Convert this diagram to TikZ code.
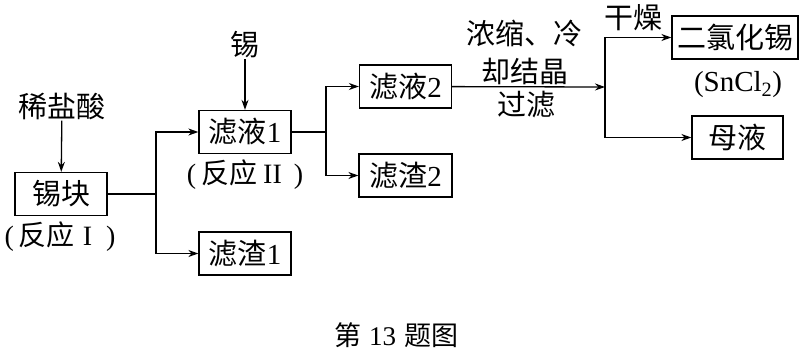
\documentclass[tikz,border=0pt]{standalone}
\usepackage{fontspec}
\setmainfont{Noto Sans CJK SC}
\newfontfamily\lat{Liberation Serif}
\usetikzlibrary{arrows.meta}
\begin{document}
\begin{tikzpicture}[x=1pt,y=-1pt,
  every node/.style={font=\fontsize{29}{33}\selectfont},
  box/.style={draw,line width=1.3pt,minimum height=43pt,inner sep=0pt},
  lbl/.style={inner sep=1pt},
  arr/.style={line width=1.3pt,-{Stealth[length=10pt,width=7pt]}},
  ln/.style={line width=1.3pt}]
\useasboundingbox (0,0) rectangle (802,356);
% nodes
\node[lbl] (acid) at (62,106) {稀盐酸};
\node[box,minimum width=92pt] (tb) at (61,194) {锡块};
\node[lbl,font=\fontsize{28}{32}\selectfont] (r1) at (60,237) {{\lat(}\hspace{5pt}反应\hspace{8pt}{\lat I}\hspace{14pt}{\lat)}};
\node[lbl] (tin) at (245,45) {锡};
\node[box,minimum width=92pt] (f1) at (245,132) {滤液{\lat 1}};
\node[lbl,font=\fontsize{28}{32}\selectfont] (r2) at (245,175) {{\lat(}\hspace{5pt}反应\hspace{6pt}{\lat II}\hspace{12pt}{\lat)}};
\node[box,minimum width=92pt] (z1) at (245,253.5) {滤渣{\lat 1}};
\node[box,minimum width=92pt] (f2) at (405.5,86.5) {滤液{\lat 2}};
\node[box,minimum width=93pt] (z2) at (405.5,175.5) {滤渣{\lat 2}};
\node[lbl] (c1) at (524,33) {浓缩、冷};
\node[lbl] (c2) at (525,71) {却结晶};
\node[lbl] (c3) at (526,105) {过滤};
\node[lbl] (dry) at (633,18) {干燥};
\node[box,minimum width=126pt] (s) at (735,37.5) {二氯化锡};
\node[lbl] (sf) at (738,85) {\lat (SnCl\textsubscript{2})};
\node[box,minimum width=91pt] (ml) at (737.5,137.5) {母液};
\node[lbl,font=\fontsize{27}{30}\selectfont] (cap) at (396,335) {第\hspace{8pt}{\lat 13}\hspace{8pt}题图};
% junctions
\coordinate (j1) at (156,194);
\coordinate (j2) at (326,132);
\coordinate (j3) at (605,87);
% connectors
\draw[arr] (acid) -- (tb);
\draw[ln] (tb) -- (j1);
\draw[arr] (j1) |- (f1);
\draw[arr] (j1) |- (z1);
\draw[arr] (tin) -- (f1);
\draw[ln] (f1) -- (j2);
\draw[arr] (j2) |- (f2);
\draw[arr] (j2) |- (z2);
\draw[arr] (f2) -- (j3);
\draw[arr] (j3) |- (s);
\draw[arr] (j3) |- (ml);
\end{tikzpicture}
\end{document}
